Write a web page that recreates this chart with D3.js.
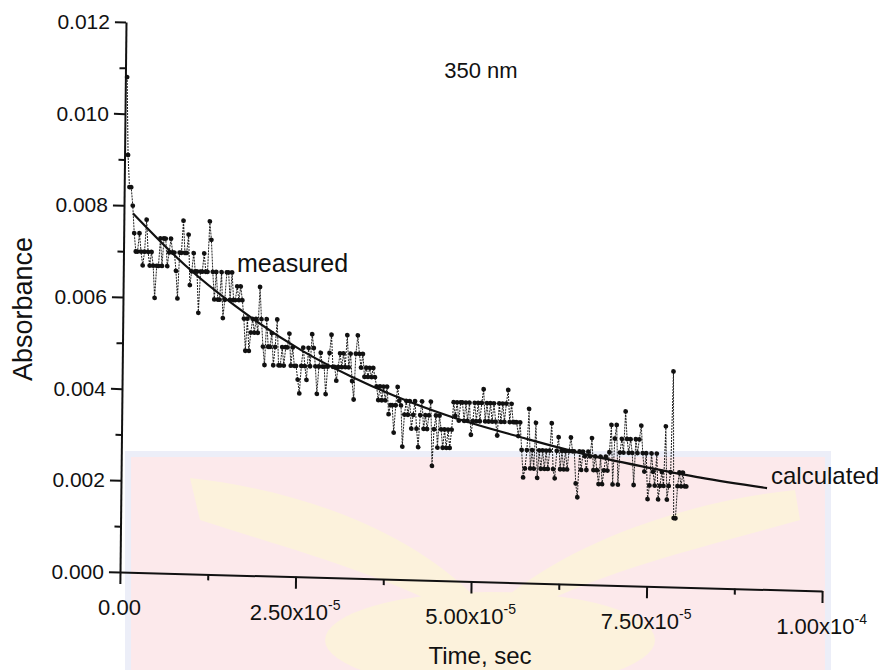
<!DOCTYPE html>
<html>
<head>
<meta charset="utf-8">
<script src="https://cdn.jsdelivr.net/npm/d3@7"></script>
<style>
  body { margin: 0; background: #fff; }
  svg { display: block; }
</style>
</head>
<body>
<svg id="chart"></svg>
<script>
// measured absorbance, one sample every 0.25 microsecond
const sampleStep = 2.5e-7;
const measured = [
  0.0108, 0.0091, 0.0084, 0.0084, 0.0080, 0.0074, 0.0070, 0.0070, 0.0074, 0.0070,
  0.0067, 0.0070, 0.0077, 0.0070, 0.0067, 0.0070, 0.0067, 0.0060, 0.0067, 0.0067,
  0.0073, 0.0067, 0.0073, 0.0073, 0.0067, 0.0070, 0.0073, 0.0070, 0.0070, 0.0066,
  0.0060, 0.0070, 0.0070, 0.0077, 0.0070, 0.0070, 0.0074, 0.0063, 0.0066, 0.0070,
  0.0066, 0.0066, 0.0057, 0.0066, 0.0066, 0.0070, 0.0066, 0.0066, 0.0077, 0.0073,
  0.0066, 0.0060, 0.0066, 0.0060, 0.0060, 0.0066, 0.0056, 0.0060, 0.0066, 0.0066,
  0.0060, 0.0066, 0.0060, 0.0060, 0.0063, 0.0060, 0.0063, 0.0060, 0.0056, 0.0049,
  0.0056, 0.0049, 0.0053, 0.0056, 0.0053, 0.0056, 0.0053, 0.0063, 0.0056, 0.0050,
  0.0046, 0.0056, 0.0050, 0.0050, 0.0053, 0.0046, 0.0050, 0.0056, 0.0046, 0.0046,
  0.0050, 0.0046, 0.0050, 0.0050, 0.0053, 0.0046, 0.0050, 0.0046, 0.0046, 0.0043,
  0.0040, 0.0046, 0.0050, 0.0046, 0.0043, 0.0050, 0.0046, 0.0053, 0.0050, 0.0046,
  0.0040, 0.0046, 0.0049, 0.0046, 0.0046, 0.0040, 0.0046, 0.0049, 0.0053, 0.0046,
  0.0046, 0.0043, 0.0046, 0.0049, 0.0046, 0.0049, 0.0046, 0.0053, 0.0046, 0.0049,
  0.0043, 0.0039, 0.0049, 0.0053, 0.0049, 0.0046, 0.0049, 0.0044, 0.0046, 0.0044,
  0.0046, 0.0044, 0.0046, 0.0044, 0.0042, 0.0039, 0.0042, 0.0039, 0.0042, 0.0039,
  0.0042, 0.0036, 0.0038, 0.0038, 0.0032, 0.0038, 0.0042, 0.0039, 0.0038, 0.0029,
  0.0036, 0.0039, 0.0036, 0.0039, 0.0033, 0.0036, 0.0039, 0.0033, 0.0029, 0.0036,
  0.0039, 0.0033, 0.0036, 0.0033, 0.0036, 0.0039, 0.0025, 0.0033, 0.0036, 0.0029,
  0.0036, 0.0033, 0.0029, 0.0033, 0.0029, 0.0033, 0.0029, 0.0033, 0.0039, 0.0036,
  0.0039, 0.0035, 0.0039, 0.0039, 0.0035, 0.0039, 0.0035, 0.0039, 0.0032, 0.0035,
  0.0039, 0.0035, 0.0039, 0.0035, 0.0039, 0.0042, 0.0035, 0.0039, 0.0035, 0.0039,
  0.0035, 0.0039, 0.0035, 0.0032, 0.0039, 0.0035, 0.0039, 0.0035, 0.0039, 0.0042,
  0.0035, 0.0039, 0.0035, 0.0035, 0.0035, 0.0032, 0.0035, 0.0029, 0.0023, 0.0025,
  0.0029, 0.0038, 0.0025, 0.0029, 0.0025, 0.0035, 0.0023, 0.0029, 0.0025, 0.0029,
  0.0025, 0.0029, 0.0025, 0.0029, 0.0035, 0.0025, 0.0023, 0.0029, 0.0032, 0.0025,
  0.0029, 0.0025, 0.0029, 0.0025, 0.0029, 0.0032, 0.0029, 0.0029, 0.0022, 0.0019,
  0.0029, 0.0025, 0.0029, 0.0028, 0.0025, 0.0029, 0.0028, 0.0032, 0.0025, 0.0028,
  0.0025, 0.0022, 0.0028, 0.0022, 0.0025, 0.0028, 0.0025, 0.0029, 0.0035, 0.0022,
  0.0032, 0.0035, 0.0022, 0.0029, 0.0032, 0.0029, 0.0038, 0.0032, 0.0029, 0.0032,
  0.0029, 0.0022, 0.0032, 0.0029, 0.0032, 0.0035, 0.0029, 0.0025, 0.0029, 0.0019,
  0.0022, 0.0029, 0.0025, 0.0022, 0.0029, 0.0019, 0.0022, 0.0025, 0.0022, 0.0035,
  0.0019, 0.0022, 0.0025, 0.0047, 0.0015, 0.0015, 0.0022, 0.0025, 0.0022, 0.0025,
  0.0022, 0.0022
];

// fitted curve
const calcTime = [1.3e-6, 8.8e-6, 1.6e-5, 2.55e-5, 3.26e-5, 3.87e-5, 4.69e-5, 5.73e-5, 6.58e-5, 7.54e-5, 8.25e-5, 9.2e-5];
const calcAbs = [0.00783, 0.00673, 0.00587, 0.00494, 0.00440, 0.00401, 0.00358, 0.00316, 0.00285, 0.00258, 0.00240, 0.00221];

const yTicks = [0, 0.002, 0.004, 0.006, 0.008, 0.010, 0.012];
const yMinor = [0.001, 0.003, 0.005, 0.007, 0.009, 0.011];
const xTicks = [0, 2.5e-5, 5e-5, 7.5e-5, 1e-4];
const xTickMant = ["0.00", "2.50", "5.00", "7.50", "1.00"];
const xTickExp = [null, "-5", "-5", "-5", "-4"];
const xMinor = [1.25e-5, 3.75e-5, 6.25e-5, 8.75e-5];

const width = 885;
const height = 670;
const plotW = 700;
const plotH = 550;
const font = "Liberation Sans, Arial, sans-serif";
const narrow = "Liberation Sans Narrow, Arial Narrow, Liberation Sans, sans-serif";

// the scanned figure is slightly tilted: plot frame -> page
const tilt = [1.003, 0.0271, -0.0109, 1, 126, 22];
const toPage = (lx, ly) => [
  tilt[0] * lx + tilt[2] * ly + tilt[4],
  tilt[1] * lx + tilt[3] * ly + tilt[5]
];

const svg = d3.select("#chart").attr("width", width).attr("height", height);

// faint watermark behind the scan
const wm = svg.append("g").attr("class", "watermark");
wm.append("rect")
  .attr("x", 128).attr("y", 454).attr("width", 700).attr("height", 220)
  .attr("fill", "#fce9eb").attr("stroke", "#eceef8").attr("stroke-width", 6);
wm.append("path")
  .attr("d", "M190,478 C280,488 400,520 478,600 L458,616 C395,578 300,552 200,520 Z")
  .attr("fill", "#fcf2dc");
wm.append("path")
  .attr("d", "M795,490 C700,500 580,535 500,602 L518,616 C595,572 700,548 800,520 Z")
  .attr("fill", "#fcf2dc");
wm.append("ellipse")
  .attr("cx", 490).attr("cy", 640).attr("rx", 165).attr("ry", 48)
  .attr("fill", "#fcf2dc");

const plot = svg.append("g").attr("transform", `matrix(${tilt.join(",")})`);

const x = d3.scaleLinear().domain([0, 1e-4]).range([0, plotW]);
const y = d3.scaleLinear().domain([0, 0.012]).range([plotH, 0]);

const styleAxis = (g) => {
  g.selectAll("path.domain").attr("stroke", "#111").attr("stroke-width", 2);
  g.selectAll(".tick line").attr("stroke", "#111").attr("stroke-width", 2);
};

plot.append("g")
  .call(d3.axisLeft(y).tickValues(yTicks).tickSize(11).tickSizeOuter(0).tickFormat(""))
  .call(styleAxis);

plot.append("g")
  .call(d3.axisLeft(y).tickValues(yMinor).tickSize(6).tickFormat(""))
  .call(styleAxis)
  .call((g) => g.select(".domain").remove());

plot.append("g")
  .attr("transform", `translate(0,${plotH})`)
  .call(d3.axisBottom(x).tickValues(xTicks).tickSize(12).tickSizeOuter(0).tickFormat(""))
  .call(styleAxis);

plot.append("g")
  .attr("transform", `translate(0,${plotH})`)
  .call(d3.axisBottom(x).tickValues(xMinor).tickSize(6).tickFormat(""))
  .call(styleAxis)
  .call((g) => g.select(".domain").remove());

// tick labels placed upright, following the tilted axes
const yFmt = d3.format(".3f");
svg.append("g")
  .attr("font-family", font)
  .attr("font-size", 21)
  .attr("fill", "#111")
  .selectAll("text")
  .data(yTicks)
  .join("text")
  .attr("x", (d) => toPage(-16, y(d))[0])
  .attr("y", (d) => toPage(-16, y(d))[1])
  .attr("dy", "0.35em")
  .attr("text-anchor", "end")
  .text(yFmt);

const xLabels = svg.append("g")
  .attr("font-family", narrow)
  .attr("font-size", 22)
  .attr("fill", "#111");
xTicks.forEach((v, i) => {
  const p = toPage(x(v), plotH + 43);
  const t = xLabels.append("text")
    .attr("x", p[0])
    .attr("y", p[1])
    .attr("text-anchor", "middle");
  t.append("tspan").text(xTickMant[i] + (xTickExp[i] ? "x10" : ""));
  if (xTickExp[i]) {
    t.append("tspan").attr("dy", -10).attr("font-size", 14).text(xTickExp[i]);
  }
});

// measured trace
const measuredData = measured.map((a, i) => ({ t: (i + 1) * sampleStep, a: a }));

plot.append("path")
  .datum(measuredData)
  .attr("fill", "none")
  .attr("stroke", "#222")
  .attr("stroke-width", 1)
  .attr("stroke-dasharray", "2,1")
  .attr("d", d3.line().x((d) => x(d.t)).y((d) => y(d.a)));

plot.append("g")
  .selectAll("circle")
  .data(measuredData)
  .join("circle")
  .attr("cx", (d) => x(d.t))
  .attr("cy", (d) => y(d.a))
  .attr("r", 2.4)
  .attr("fill", "#111");

// calculated curve
const calcData = calcTime.map((t, i) => ({ t: t, a: calcAbs[i] }));
plot.append("path")
  .datum(calcData)
  .attr("fill", "none")
  .attr("stroke", "#111")
  .attr("stroke-width", 2.2)
  .attr("d", d3.line().curve(d3.curveMonotoneX).x((d) => x(d.t)).y((d) => y(d.a)));

// labels
const label = (sel) => sel.attr("font-family", font).attr("fill", "#111");
svg.append("text").attr("x", 481).attr("y", 78).attr("text-anchor", "middle")
  .attr("font-size", 22).call(label).text("350 nm");
svg.append("text").attr("x", 237).attr("y", 272)
  .attr("font-size", 25).call(label).text("measured");
svg.append("text").attr("x", 771).attr("y", 484)
  .attr("font-size", 24).call(label).text("calculated");
svg.append("text").attr("transform", "translate(32,309) rotate(-90)").attr("text-anchor", "middle")
  .attr("font-size", 27).call(label).text("Absorbance");
svg.append("text").attr("x", 480).attr("y", 664).attr("text-anchor", "middle")
  .attr("font-size", 24).call(label).text("Time, sec");
</script>
</body>
</html>
